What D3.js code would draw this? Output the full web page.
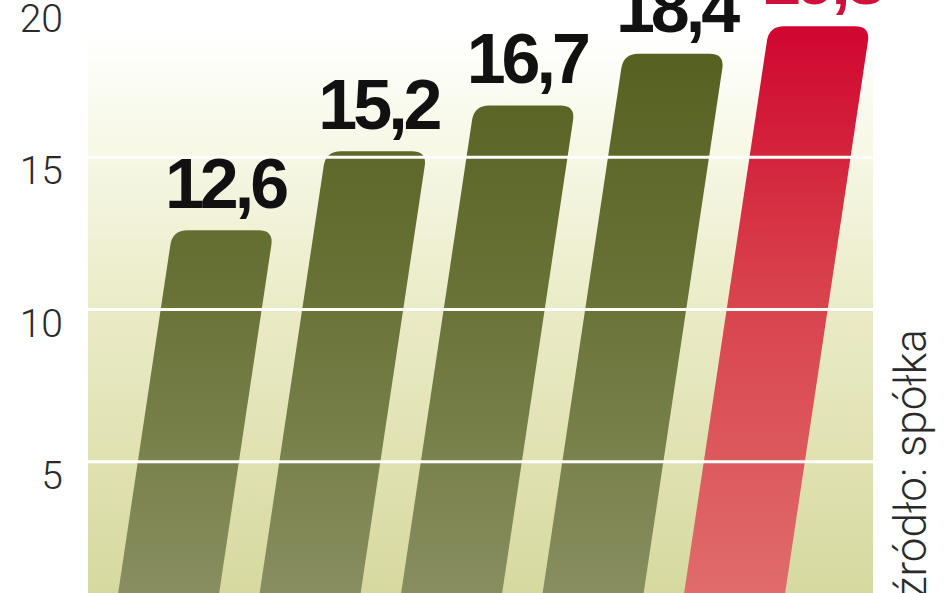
<!DOCTYPE html>
<html><head><meta charset="utf-8">
<script src="https://cdn.jsdelivr.net/npm/d3@7"></script>
<style>html,body{margin:0;padding:0;background:#fff;}svg{display:block;}</style>
</head><body>
<svg id="c" width="948" height="593"></svg>
<script>
const categories = ["b1","b2","b3","b4","b5"];
const values = [12.6, 15.2, 16.7, 18.4, 19.3];
const valueLabels = ["12,6","15,2","16,7","18,4","19,3"];
const highlight = [false,false,false,false,true];
const yTicks = [0,5,10,15,20];
const sourceText = "źródło: spółka";

const W = 948, H = 593;
const svg = d3.select("#c");
const y = d3.scaleLinear().domain([0,20]).range([614,5]);
const x = d3.scaleBand().domain(categories).range([115,782]).paddingInner(0.286).paddingOuter(0);
const slant = 0.15;
const plotL = 88, plotR = 873;

const defs = svg.append("defs");
const bg = defs.append("linearGradient").attr("id","bg").attr("gradientUnits","userSpaceOnUse")
  .attr("x1",0).attr("x2",0).attr("y1",30).attr("y2",593);
[[0,"#ffffff"],[0.2,"#f7f8e7"],[0.5,"#eaebc6"],[0.75,"#e0e2b2"],[1,"#d6d99f"]].forEach(s=>bg.append("stop").attr("offset",s[0]).attr("stop-color",s[1]));
const gg = defs.append("linearGradient").attr("id","gg").attr("gradientUnits","userSpaceOnUse")
  .attr("x1",0).attr("x2",0).attr("y1",40).attr("y2",593);
[[0,"#556020"],[0.45,"#687236"],[1,"#888e5f"]].forEach(s=>gg.append("stop").attr("offset",s[0]).attr("stop-color",s[1]));
const rg = defs.append("linearGradient").attr("id","rg").attr("gradientUnits","userSpaceOnUse")
  .attr("x1",0).attr("x2",0).attr("y1",20).attr("y2",593);
[[0,"#d0042f"],[0.45,"#d8404a"],[1,"#e06c6b"]].forEach(s=>rg.append("stop").attr("offset",s[0]).attr("stop-color",s[1]));

svg.append("rect").attr("x",plotL).attr("y",0).attr("width",plotR-plotL).attr("height",H).attr("fill","url(#bg)");

const y0 = y(0);
function barPath(c, v){
  const bw = x.bandwidth();
  const yt = y(v), yb = y0;
  const xl = yy => x(c) + (y0 - yy)*slant;
  const r = 15;
  const tlx = xl(yt), trx = tlx + bw;
  const len = Math.hypot(slant,1);
  const dx = slant/len*r, dy = 1/len*r;
  const p = d3.path();
  p.moveTo(xl(yb), yb);
  p.lineTo(tlx - dx, yt + dy);
  p.quadraticCurveTo(tlx, yt, tlx + r, yt);
  p.lineTo(trx - r, yt);
  p.quadraticCurveTo(trx, yt, trx - dx, yt + dy);
  p.lineTo(xl(yb)+bw, yb);
  p.closePath();
  return p.toString();
}

svg.append("g").selectAll("path").data(categories).join("path")
  .attr("d",(c,i)=>barPath(c, values[i]))
  .attr("fill",(c,i)=>highlight[i] ? "url(#rg)" : "url(#gg)");

// gridlines over bars
svg.append("g").selectAll("line").data(yTicks.filter(t=>t>0)).join("line")
  .attr("x1",plotL).attr("x2",plotR).attr("y1",d=>y(d)).attr("y2",d=>y(d))
  .attr("stroke","#ffffff").attr("stroke-width",3);

// y tick labels
svg.append("g").selectAll("text").data(yTicks).join("text")
  .attr("x",63).attr("y",d=>y(d)+27)
  .attr("text-anchor","end")
  .attr("font-family","Roboto, 'Liberation Sans', sans-serif").attr("font-weight",300)
  .attr("font-size",39).attr("fill","#2a2a2a")
  .text(d=>d);

// value labels
svg.append("g").selectAll("text").data(categories).join("text")
  .attr("x",(c,i)=> x(c) + (y0 - y(values[i]))*slant + x.bandwidth()/2 + 2)
  .attr("y",(c,i)=> y(values[i]) - 22)
  .attr("text-anchor","middle")
  .attr("font-family","'Liberation Sans', Arial, sans-serif").attr("font-weight","bold")
  .attr("font-size",70).attr("letter-spacing",-4)
  .attr("fill",(c,i)=>highlight[i] ? "#d0103a" : "#111")
  .text((c,i)=>valueLabels[i]);

// source
svg.append("text")
  .attr("transform","translate(926,598) rotate(-90)")
  .attr("font-family","Roboto, 'Liberation Sans', sans-serif").attr("font-weight",300)
  .attr("font-size",44).attr("fill","#2a2a2a")
  .text(sourceText);
</script>
</body></html>
